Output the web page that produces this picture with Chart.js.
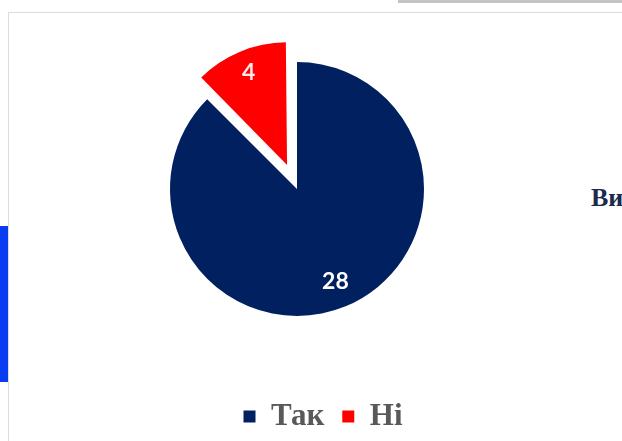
<!DOCTYPE html>
<html>
<head>
<meta charset="utf-8">
<script src="https://cdn.jsdelivr.net/npm/chart.js@4"></script>
<style>
  html, body { margin: 0; padding: 0; background: #fff; }
  #page { position: relative; width: 622px; height: 441px; overflow: hidden; background: #fff; }
  #card { position: absolute; left: 8px; top: 12px; width: 620px; height: 440px; border-top: 1px solid #dcdcdc; border-left: 1px solid #dcdcdc; }
  #bar { position: absolute; left: 398px; top: 0; width: 224px; height: 3px; background: #c4c4c4; }
  #blue { position: absolute; left: 0; top: 226px; width: 8px; height: 156px; background: #0a3cf2; }
  #side { position: absolute; left: 591px; top: 183px; font: bold 26px "Liberation Serif", serif; color: #1c2a4e; white-space: nowrap; }
  #wrap { position: absolute; left: 0; top: -8px; width: 594px; height: 453px; }
</style>
</head>
<body>
<div id="page">
  <div id="bar"></div>
  <div id="card"></div>
  <div id="blue"></div>
  <div id="side">Ви</div>
  <div id="wrap"><canvas id="pieChart" width="594" height="453"></canvas></div>
</div>
<script>
const labels = ['Так', 'Ні'];
const values = [28, 4];
const colors = ['#002060', '#ff0000'];
const labelColors = ['#ffffff', '#fde8e8'];

// Chart.js moves an arc by offset / 4, so 104 pulls the "Ні" slice out ~26px
const explode = [0, 104];

// the pulled-out slice is drawn a bit smaller, as in the original
const shrinkExploded = {
    id: 'shrinkExploded',
    beforeDatasetsDraw(chart) {
        const meta = chart.getDatasetMeta(0);
        const R = meta.controller.outerRadius;
        meta.data.forEach((arc, i) => {
            arc.outerRadius = explode[i] ? R - 12 : R;
        });
    }
};

// values drawn inside the slices
const sliceLabels = {
    id: 'sliceLabels',
    afterDatasetsDraw(chart) {
        const ctx = chart.ctx;
        const meta = chart.getDatasetMeta(0);
        const R = meta.controller.outerRadius;
        ctx.save();
        ctx.font = 'bold 23px Lato, "Open Sans", sans-serif';
        ctx.textAlign = 'center';
        ctx.textBaseline = 'middle';
        meta.data.forEach((arc, i) => {
            const p = arc.getProps(['x', 'y', 'startAngle', 'endAngle']);
            const mid = (p.startAngle + p.endAngle) / 2;
            const r = R * 0.79 + explode[i] / 4;
            ctx.fillStyle = labelColors[i];
            ctx.fillText(String(values[i]), p.x + Math.cos(mid) * r, p.y + Math.sin(mid) * r);
        });
        ctx.restore();
    }
};

// legend sits a little right of the pie centre and slightly higher
const shiftLegend = {
    id: 'shiftLegend',
    afterLayout(chart) {
        chart.legend.left += 26;
        chart.legend.right += 26;
        chart.legend.top -= 3;
        chart.legend.bottom -= 3;
    }
};

const pieCtx = document.getElementById('pieChart').getContext('2d');

const pieChart = new Chart(pieCtx, {
    type: 'pie',
    data: {
        labels: labels,
        datasets: [{
            data: values,
            backgroundColor: colors,
            borderWidth: 0,
            offset: explode,
            radius: 127
        }]
    },
    options: {
        responsive: false,
        animation: false,
        layout: { padding: 0 },
        plugins: {
            tooltip: { enabled: false },
            legend: {
                position: 'bottom',
                labels: {
                    boxWidth: 12,
                    boxHeight: 12,
                    padding: 18,
                    color: '#595959',
                    font: { family: '"Liberation Serif", serif', size: 31, weight: 'bold' }
                }
            }
        }
    },
    plugins: [shrinkExploded, sliceLabels, shiftLegend]
});
</script>
</body>
</html>
